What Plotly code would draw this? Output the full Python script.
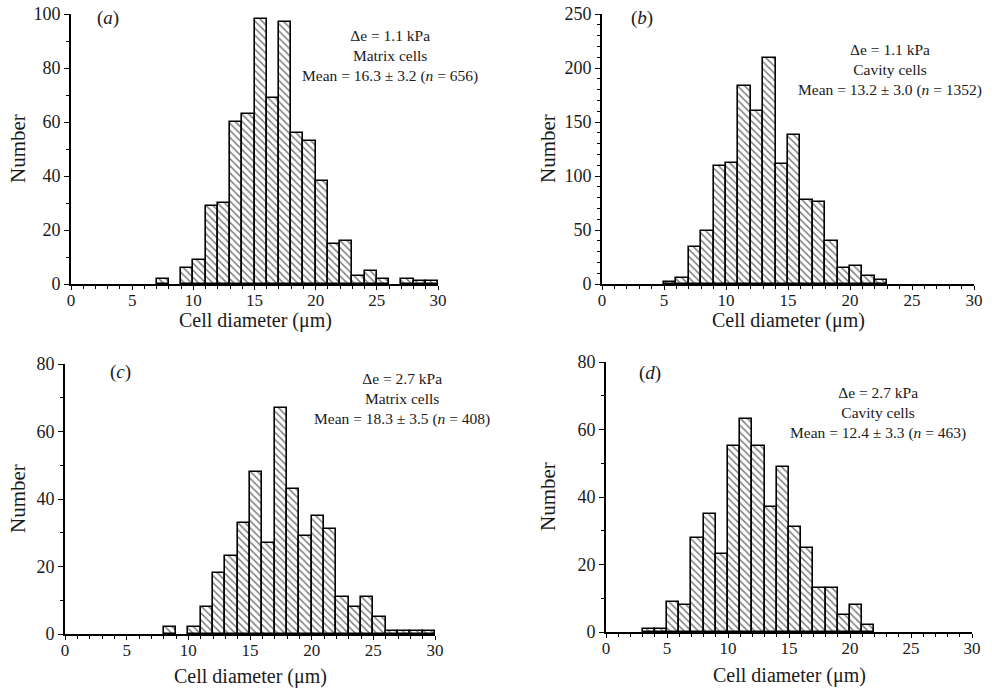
import plotly.graph_objects as go

W, H = 992, 689

# ---------------- data ----------------
bin_start = list(range(30))  # 1-um bins from 0 to 30

counts_a = [0, 0, 0, 0, 0, 0, 0, 2, 0, 6, 9, 29, 30, 60, 63, 98, 69, 97, 56, 53,
            38, 15, 16, 3, 5, 2, 0, 2, 1, 1]
counts_b = [0, 0, 0, 0, 0, 2, 6, 34, 49, 109, 112, 183, 160, 209, 111, 138, 78, 76, 40, 15,
            17, 7, 4, 0, 0, 0, 0, 0, 0, 0]
counts_c = [0, 0, 0, 0, 0, 0, 0, 0, 2, 0, 2, 8, 18, 23, 33, 48, 27, 67, 43, 29,
            35, 31, 11, 8, 11, 5, 1, 1, 1, 1]
counts_d = [0, 0, 0, 1, 1, 9, 8, 28, 35, 23, 55, 63, 55, 37, 49, 31, 25, 13, 13, 5,
            8, 2, 0, 0, 0, 0, 0, 0, 0, 0]

panel_labels = ["(<i>a</i>)", "(<i>b</i>)", "(<i>c</i>)", "(<i>d</i>)"]
panel_texts = [
    "Δe = 1.1 kPa<br>Matrix cells<br>Mean = 16.3 ± 3.2 (<i>n</i> = 656)",
    "Δe = 1.1 kPa<br>Cavity cells<br>Mean = 13.2 ± 3.0 (<i>n</i> = 1352)",
    "Δe = 2.7 kPa<br>Matrix cells<br>Mean = 18.3 ± 3.5 (<i>n</i> = 408)",
    "Δe = 2.7 kPa<br>Cavity cells<br>Mean = 12.4 ± 3.3 (<i>n</i> = 463)",
]
y_max = [100, 250, 80, 80]
y_dtick = [20, 50, 20, 20]
x_ticks = [0, 5, 10, 15, 20, 25, 30]
x_title = "Cell diameter (μm)"
y_title = "Number"

# ---------------- layout helpers (pixels -> paper) ----------------
def px(x):
    return x / W

def py(y):
    return 1 - y / H

# plot areas in pixels: (left, right, top, bottom)
areas = [(71, 438, 14, 284), (602, 974, 14, 284), (65, 435, 364, 634), (606, 972, 362, 632)]
label_pos = [(108, 18), (642, 18), (120, 372), (650, 373)]
text_pos = [(390, 56), (890, 70), (402, 399), (878, 413)]
xtitle_pos = [(255, 320), (788, 320), (250, 676), (789, 675)]
ytitle_pos = [(18, 149), (548, 149), (18, 499), (548, 497)]

FONT = "Liberation Serif"
TXT = "#1a1a1a"
fig = go.Figure()

all_counts = [counts_a, counts_b, counts_c, counts_d]
for i, counts in enumerate(all_counts):
    xa = "x" if i == 0 else f"x{i+1}"
    ya = "y" if i == 0 else f"y{i+1}"
    fig.add_trace(go.Bar(
        x=bin_start, y=[c if c > 0 else None for c in counts], width=1, offset=0,
        xaxis=xa, yaxis=ya,
        marker=dict(color="white", line=dict(color="black", width=1.6),
                    pattern=dict(shape="\\", fgcolor="black", bgcolor="white",
                                 size=5, solidity=0.3)),
        showlegend=False, hoverinfo="skip",
    ))
    l, r, t, b = areas[i]
    axn = "" if i == 0 else str(i + 1)
    fig.layout["xaxis" + axn] = dict(
        domain=[px(l), px(r)], anchor=ya, range=[0, 30], automargin=False,
        tickvals=x_ticks, ticks="outside", ticklen=4, tickwidth=1.3, tickcolor="black",
        ticklabelstandoff=-4,
        minor=dict(dtick=1, ticks="outside", ticklen=3, tickwidth=1.2, tickcolor="black"),
        showline=True, linecolor="black", linewidth=1.6, showgrid=False, zeroline=False,
        tickfont=dict(family=FONT, size=17, color=TXT),
    )
    fig.layout["yaxis" + axn] = dict(
        domain=[py(b), py(t)], anchor=xa, range=[0, y_max[i]], automargin=False,
        dtick=y_dtick[i], ticks="outside", ticklen=5, tickwidth=1.3, tickcolor="black",
        minor=dict(dtick=10, ticks="outside", ticklen=3, tickwidth=1.2, tickcolor="black"),
        showline=True, linecolor="black", linewidth=1.6, showgrid=False, zeroline=False,
        tickfont=dict(family=FONT, size=18, color=TXT),
    )
    lx, ly = label_pos[i]
    fig.add_annotation(x=px(lx), y=py(ly), xref="paper", yref="paper", text=panel_labels[i],
                       xanchor="center", yanchor="middle",
                       showarrow=False, font=dict(family=FONT, size=19, color=TXT))
    tx, ty = text_pos[i]
    fig.add_annotation(x=px(tx), y=py(ty), xref="paper", yref="paper", text=panel_texts[i],
                       xanchor="center", yanchor="middle",
                       showarrow=False, align="center",
                       font=dict(family=FONT, size=15.5, color=TXT))
    xx, xy = xtitle_pos[i]
    fig.add_annotation(x=px(xx), y=py(xy), xref="paper", yref="paper", text=x_title,
                       xanchor="center", yanchor="middle", showarrow=False,
                       font=dict(family=FONT, size=20, color=TXT))
    yx, yy = ytitle_pos[i]
    fig.add_annotation(x=px(yx), y=py(yy), xref="paper", yref="paper", text=y_title,
                       xanchor="center", yanchor="middle", showarrow=False, textangle=-90,
                       font=dict(family=FONT, size=21, color=TXT))

fig.update_layout(
    width=W, height=H, margin=dict(l=0, r=0, t=0, b=0),
    paper_bgcolor="white", plot_bgcolor="white", bargap=0,
)

fig.write_html("out.html", config={"displayModeBar": False},
               post_script="document.body.style.margin='0';document.body.style.overflow='hidden';")
